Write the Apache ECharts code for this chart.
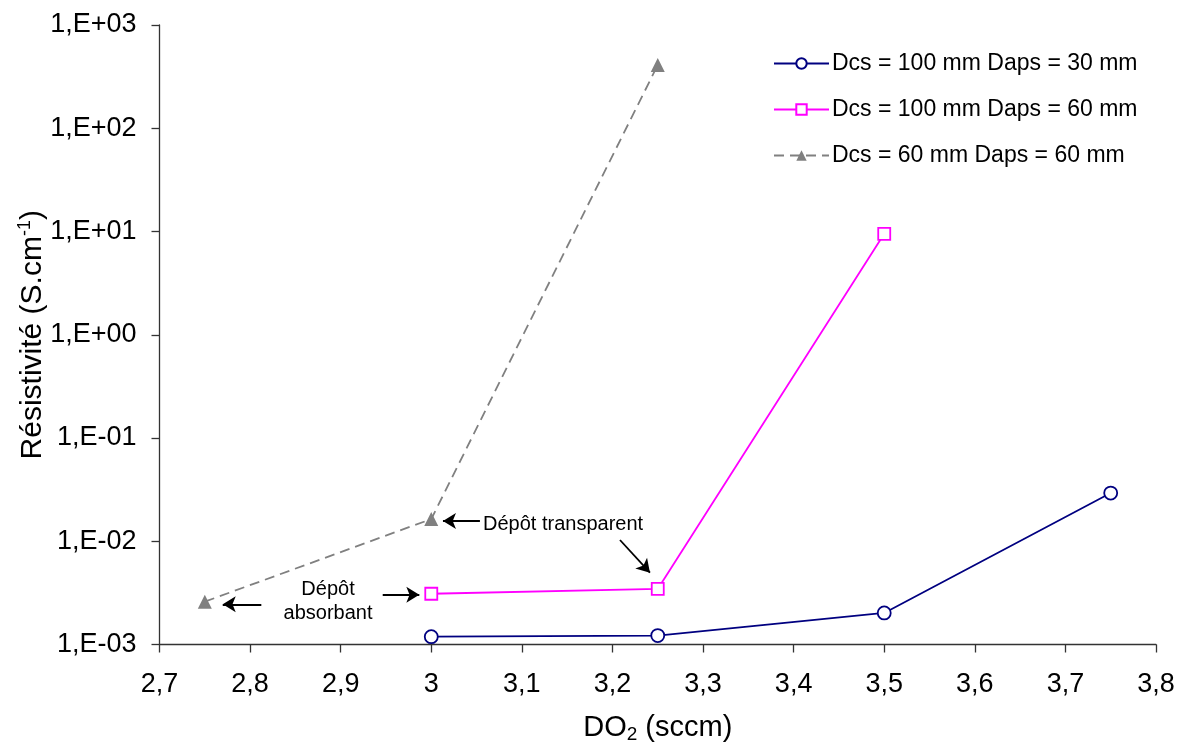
<!DOCTYPE html>
<html>
<head>
<meta charset="utf-8">
<script src="https://cdn.jsdelivr.net/npm/echarts@6/dist/echarts.min.js"></script>
<style>html,body{margin:0;padding:0;background:#fff}#c{width:1181px;height:742px}</style>
</head>
<body>
<div id="c"></div>
<script>
// Data
const seriesNames = ['Dcs = 100 mm Daps = 30 mm', 'Dcs = 100 mm Daps = 60 mm', 'Dcs = 60 mm Daps = 60 mm'];
const xBlue = [3, 3.25, 3.5, 3.75];
const yBlue = [1.19e-3, 1.22e-3, 2.02e-3, 2.93e-2];
const xPink = [3, 3.25, 3.5];
const yPink = [3.1e-3, 3.45e-3, 9.5];
const xGray = [2.75, 3, 3.25];
const yGray = [2.6e-3, 1.64e-2, 4.1e2];
const xMin = 2.7, xMax = 3.8, xStep = 0.1;
const yMin = 1e-3, yMax = 1e3;
// annotation arrows in data coordinates: [x0, y0, x1, y1]
const arrows = [
  [3.0537, 1.57e-2, 3.0129, 1.57e-2],
  [3.2083, 1.028e-2, 3.2414, 4.96e-3],
  [2.9464, 3.04e-3, 2.9868, 3.04e-3],
  [2.8124, 2.45e-3, 2.7698, 2.45e-3]
];

const zip = (xs, ys) => xs.map((x, i) => [x, ys[i]]);
const FONT = '"Liberation Sans", Arial, sans-serif';

const chart = echarts.init(document.getElementById('c'), null, {renderer: 'canvas'});
const option = {
  animation: false,
  backgroundColor: '#fff',
  textStyle: {fontFamily: FONT},
  grid: {left: 159.5, right: 25, top: 25, bottom: 97.5, containLabel: false, outerBoundsMode: 'none'},
  legend: {
    orient: 'vertical', left: 773, top: 51, padding: 0, itemWidth: 55, itemHeight: 13, itemGap: 21,
    textStyle: {fontFamily: FONT, fontSize: 23, lineHeight: 25, color: '#000', padding: [0, 0, 0, -2]},
    data: seriesNames
  },
  xAxis: {
    type: 'value', min: xMin, max: xMax, interval: xStep,
    axisLine: {show: true, onZero: false, lineStyle: {color: '#333', width: 1.3}},
    axisTick: {show: true, length: 8, lineStyle: {color: '#333', width: 1.3}},
    splitLine: {show: false},
    axisLabel: {
      fontSize: 27, color: '#000', margin: 27, fontFamily: FONT,
      formatter: v => String(parseFloat(v.toFixed(1))).replace('.', ',')
    },
    name: '{n|DO}{s|2}{n| (sccm)}', nameLocation: 'middle', nameGap: 67, nameMoveOverlap: false,
    nameTextStyle: {rich: {
      n: {fontSize: 29, color: '#000', fontFamily: FONT},
      s: {fontSize: 19, color: '#000', fontFamily: FONT, verticalAlign: 'bottom', padding: [14, 0, 0, 0]}
    }}
  },
  yAxis: {
    type: 'log', logBase: 10, min: yMin, max: yMax,
    axisLine: {show: true, onZero: false, lineStyle: {color: '#333', width: 1.3}},
    axisTick: {show: true, length: 8, lineStyle: {color: '#333', width: 1.3}},
    minorTick: {show: false}, splitLine: {show: false},
    axisLabel: {
      fontSize: 27, color: '#000', margin: 23, fontFamily: FONT,
      formatter: v => {
        const e = Math.round(Math.log10(v));
        const s = e < 0 ? '-' : '+';
        return '1,E' + s + String(Math.abs(e)).padStart(2, '0');
      }
    },
    name: '{n|Résistivité (S.cm}{p|-1}{n|)}', nameLocation: 'middle', nameGap: 111, nameRotate: 90, nameMoveOverlap: false,
    nameTextStyle: {rich: {
      n: {fontSize: 30, color: '#000', fontFamily: FONT},
      p: {fontSize: 18, color: '#000', fontFamily: FONT, verticalAlign: 'top', padding: [0, 0, 14, 0]}
    }}
  },
  series: [
    {
      name: seriesNames[0], type: 'line', data: zip(xBlue, yBlue),
      symbol: 'circle', symbolSize: 13, showAllSymbol: true,
      lineStyle: {color: '#000080', width: 1.8},
      itemStyle: {color: '#fff', borderColor: '#000080', borderWidth: 1.8},
      emphasis: {disabled: true}
    },
    {
      name: seriesNames[1], type: 'line', data: zip(xPink, yPink),
      symbol: 'rect', symbolSize: 12,
      lineStyle: {color: '#FF00FF', width: 1.8},
      itemStyle: {color: '#fff', borderColor: '#FF00FF', borderWidth: 1.8},
      emphasis: {disabled: true}
    },
    {
      name: seriesNames[2], type: 'line', data: zip(xGray, yGray),
      symbol: 'triangle', symbolSize: 14,
      lineStyle: {color: '#808080', width: 1.8, type: [10, 6]},
      itemStyle: {color: '#808080', borderColor: '#808080', borderWidth: 0},
      emphasis: {disabled: true},
      markLine: {
        silent: true, animation: false,
        symbol: ['none', 'arrow'], symbolSize: [12, 13],
        lineStyle: {color: '#000', width: 1.8, type: 'solid'},
        label: {show: false},
        data: arrows.map(a => [{coord: [a[0], a[1]]}, {coord: [a[2], a[3]]}])
      }
    }
  ],
  graphic: [
    {type: 'text', style: {x: 483, y: 524, text: 'Dépôt transparent', font: '20px ' + FONT, fill: '#000', textAlign: 'left', textVerticalAlign: 'middle'}},
    {type: 'text', style: {x: 328, y: 589, text: 'Dépôt', font: '20px ' + FONT, fill: '#000', textAlign: 'center', textVerticalAlign: 'middle'}},
    {type: 'text', style: {x: 328, y: 613, text: 'absorbant', font: '20px ' + FONT, fill: '#000', textAlign: 'center', textVerticalAlign: 'middle'}}
  ]
};
chart.setOption(option);
</script>
</body>
</html>
